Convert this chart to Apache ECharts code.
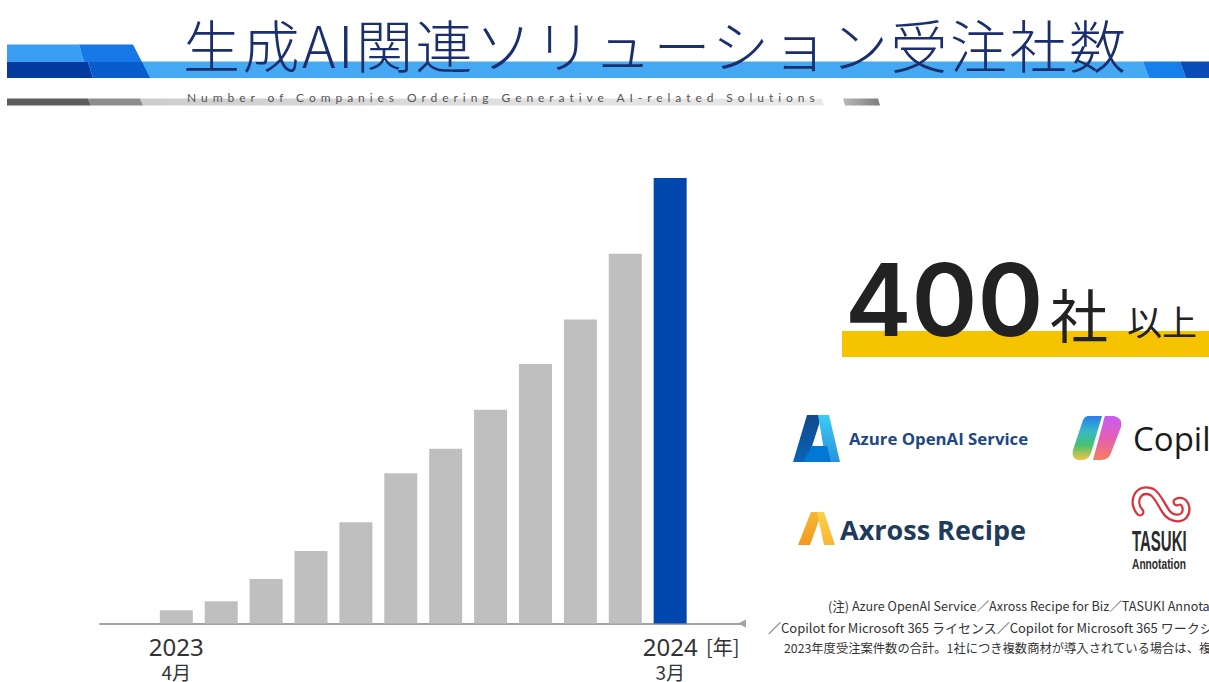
<!DOCTYPE html>
<html>
<head>
<meta charset="utf-8">
<script src="https://cdn.jsdelivr.net/npm/echarts@6/dist/echarts.min.js"></script>
<style>
  html, body { margin: 0; padding: 0; background: #ffffff; }
  #chart { width: 1209px; height: 682px; }
  /* spaced-out lettering for the title and the English subtitle */
  #chart text[style*="Lato"] { letter-spacing: 4.95px; }
  #chart text[style*="Mono"] { letter-spacing: 2.5px; }
</style>
</head>
<body>
<div id="chart"></div>
<script>
// Monthly cumulative number of companies ordering generative-AI solutions (FY2023)
const months = ['2023年4月', '5月', '6月', '7月', '8月', '9月', '10月', '11月', '12月', '2024年1月', '2月', '3月'];
const companies = [12, 20, 40, 65, 91, 135, 157, 192, 233, 273, 332, 400];
const yearLabels = ['2023', '2024'];
const monthLabels = ['4月', '3月'];
const unitLabel = '[年]';

const titleText = '生成AI関連ソリューション受注社数';
const subtitleText = 'Number of Companies Ordering Generative AI-related Solutions';
const headlineNumber = '400';
const headlineUnit = '社';
const headlineSuffix = '以上';
const footnotes = [
  '(注) Azure OpenAI Service／Axross Recipe for Biz／TASUKI Annotation',
  '／Copilot for Microsoft 365 ライセンス／Copilot for Microsoft 365 ワークショップ',
  '2023年度受注案件数の合計。1社につき複数商材が導入されている場合は、複数社としてカウント'
];

const GRAY = '#bfbfbf';
const BLUE = '#0048ad';
const lastIndex = companies.length - 1;

// logo outlines as reusable shapes
echarts.graphic.registerShape('copilotLeft', echarts.graphic.extendPath(
  'M1088,416 L1102,416 L1091,453 Q1089,460 1082,460 L1078,460 Q1071,458 1073,450 L1082,423 Q1084,416 1088,416 Z', {}));
echarts.graphic.registerShape('copilotRight', echarts.graphic.extendPath(
  'M1105,416 L1114,416 Q1123,418 1121,427 L1111,453 Q1109,460 1101,460 L1093,460 L1103,423 Q1104,418 1105,416 Z', {}));
echarts.graphic.registerShape('tasukiMark', echarts.graphic.extendPath(
  'M1140,512 C1131,502 1138,486 1152,492 C1157,495 1160,502 1165,510 C1171,521 1187,521 1186,508 C1185,502 1181,500 1177,502', {}));

const chart = echarts.init(document.getElementById('chart'), null, { renderer: 'svg' });

const barData = companies.map((v, i) => ({
  value: [i, v],
  itemStyle: { color: i === lastIndex ? BLUE : GRAY }
}));

function poly(points, fill, z) {
  return { type: 'polygon', shape: { points }, style: { fill }, z: z || 1, silent: true };
}
function hGrad(stops) {
  return new echarts.graphic.LinearGradient(0, 0, 1, 0, stops.map((c, i) => ({ offset: i / (stops.length - 1), color: c })));
}
function vGrad(stops) {
  return new echarts.graphic.LinearGradient(0, 0, 0, 1, stops.map((c, i) => ({ offset: i / (stops.length - 1), color: c })));
}
function label(x, y, text, fill, font, extra) {
  return Object.assign({ type: 'text', z: 5, silent: true, style: { x, y, text, fill, font, verticalAlign: 'middle' } }, extra || {});
}

const header = [
  // long light-blue strip under the title
  poly([[100, 61.5], [1143, 61.5], [1149, 78], [100, 78]], '#45a8f3', 1),
  // left block
  poly([[7, 44.5], [79, 44.5], [84, 62], [7, 62]], '#3a9ef2', 2),
  poly([[79, 44.5], [133, 44.5], [142, 62], [84, 62]], '#1677e6', 2),
  poly([[7, 62], [88, 62], [93, 78], [7, 78]], '#053a9e', 2),
  poly([[88, 62], [142, 62], [150, 78], [93, 78]], '#0a5bcc', 2),
  // right block
  poly([[1143, 61.5], [1180, 61.5], [1186, 78], [1149, 78]], '#1580ea', 2),
  poly([[1180, 61.5], [1209, 61.5], [1209, 78], [1186, 78]], '#0a4bb6', 2),
  // grey underline of the subtitle
  poly([[140, 98.5], [822, 98.5], [824, 105.5], [143, 105.5]], hGrad(['#cdcdcd', '#dedede', '#e9e9e9']), 1),
  poly([[7, 98.5], [88, 98.5], [91, 105.5], [7, 105.5]], '#5c5c5c', 2),
  poly([[88, 98.5], [140, 98.5], [143, 105.5], [91, 105.5]], '#8d8d8d', 2),
  poly([[843, 98.5], [878, 98.5], [880, 105.5], [845, 105.5]], hGrad(['#b8b8b8', '#7d7d7d']), 2),
  label(183, 43, titleText, '#1b2f6e', '300 57px "Noto Sans CJK JP", "DejaVu Sans Mono"'),
  label(187, 97, subtitleText, '#555555', '12px Lato')
];

const headline = [
  { type: 'rect', z: 1, silent: true, shape: { x: 842, y: 331, width: 367, height: 26 }, style: { fill: '#f5c300' } },
  label(845, 299, headlineNumber, '#222222', '600 100px Inter'),
  label(1050, 313, headlineUnit, '#222222', '58px "Noto Sans CJK JP"'),
  label(1127, 320, headlineSuffix, '#222222', '35px "Noto Sans CJK JP"')
];

const logos = [
  // Azure mark
  poly([[807, 415], [822, 415], [807, 462], [793, 462]], vGrad(['#114a8b', '#0a62b8']), 2),
  poly([[818, 415], [829, 415], [840, 462], [826, 462]], vGrad(['#3ccbf4', '#2892df']), 2),
  poly([[812, 446], [827, 446], [831, 462], [803, 462]], '#0078d4', 3),
  label(849, 438, 'Azure OpenAI Service', '#1d4785', 'bold 16.8px "Open Sans"'),
  // Copilot mark
  { type: 'copilotLeft', z: 2, silent: true, style: { fill: vGrad(['#2b7de9', '#35b7c8', '#49c26f', '#f3c443']) } },
  { type: 'copilotRight', z: 2, silent: true, style: { fill: vGrad(['#c95cf0', '#e45fb6', '#f4805a']) } },
  label(1133, 438, 'Copilot', '#1a1a1a', '33px "Open Sans"'),
  // Axross Recipe mark
  poly([[811, 512], [822, 512], [810, 545], [798, 545]], vGrad(['#f7b733', '#f29a1f']), 2),
  poly([[817, 512], [824, 512], [835, 545], [824, 545]], vGrad(['#fbd04a', '#f7b733']), 2),
  label(840, 529, 'Axross Recipe', '#1f3b5c', 'bold 27px "Open Sans"'),
  // TASUKI mark: red outlined ribbon
  { type: 'tasukiMark', z: 2, silent: true, style: { fill: 'none', stroke: '#d8343d', lineWidth: 9, lineCap: 'round' } },
  { type: 'tasukiMark', z: 3, silent: true, style: { fill: 'none', stroke: '#ffffff', lineWidth: 4.5, lineCap: 'round' } },
  label(0, 0, 'TASUKI', '#2b2b2b', 'bold 30px "Liberation Sans"', { x: 1132, y: 541, scaleX: 0.5 }),
  label(0, 0, 'Annotation', '#2b2b2b', 'bold 14px "Liberation Sans"', { x: 1132, y: 564, scaleX: 0.73 })
];

const notes = [
  label(828, 605, footnotes[0], '#333333', '12.6px "Noto Sans CJK JP"'),
  label(768, 627, footnotes[1], '#333333', '13px "Noto Sans CJK JP"'),
  label(784, 648, footnotes[2], '#333333', '12.3px "Noto Sans CJK JP"')
];

chart.setOption({
  backgroundColor: '#ffffff',
  animation: false,
  grid: { left: 100, right: 467, top: 178, bottom: 58.5, containLabel: false },
  xAxis: {
    type: 'value',
    min: -1.7,
    max: 12.6,
    splitLine: { show: false },
    axisTick: { show: false },
    axisLine: {
      show: true,
      onZero: false,
      lineStyle: { color: '#a3a3a3', width: 2 },
      symbol: ['none', 'path://M0,0 L10,0 L5,10 Z'],
      symbolSize: [8, 8]
    },
    axisLabel: {
      customValues: [0, lastIndex],
      margin: 9,
      formatter: function (val) {
        if (val === 0) {
          return '{y|' + yearLabels[0] + '}\n{m|' + monthLabels[0] + '}';
        }
        return '{sp|}{y|' + yearLabels[1] + '}{u|' + unitLabel + '}\n{m|' + monthLabels[1] + '}';
      },
      rich: {
        y: { fontSize: 24, lineHeight: 27, color: '#333333', fontFamily: '"Noto Sans"' },
        sp: { width: 42 },
        u: { width: 42, align: 'right', fontSize: 20, lineHeight: 27, color: '#333333', fontFamily: '"Noto Sans CJK JP"' },
        m: { fontSize: 19, lineHeight: 24, color: '#333333', fontFamily: '"Noto Sans CJK JP"' }
      }
    }
  },
  yAxis: {
    type: 'value',
    min: 0,
    max: 400,
    show: false
  },
  series: [{
    type: 'bar',
    name: '受注社数',
    barWidth: 33,
    data: barData,
    silent: true
  }],
  graphic: { elements: header.concat(headline, logos, notes) }
});
</script>
</body>
</html>
